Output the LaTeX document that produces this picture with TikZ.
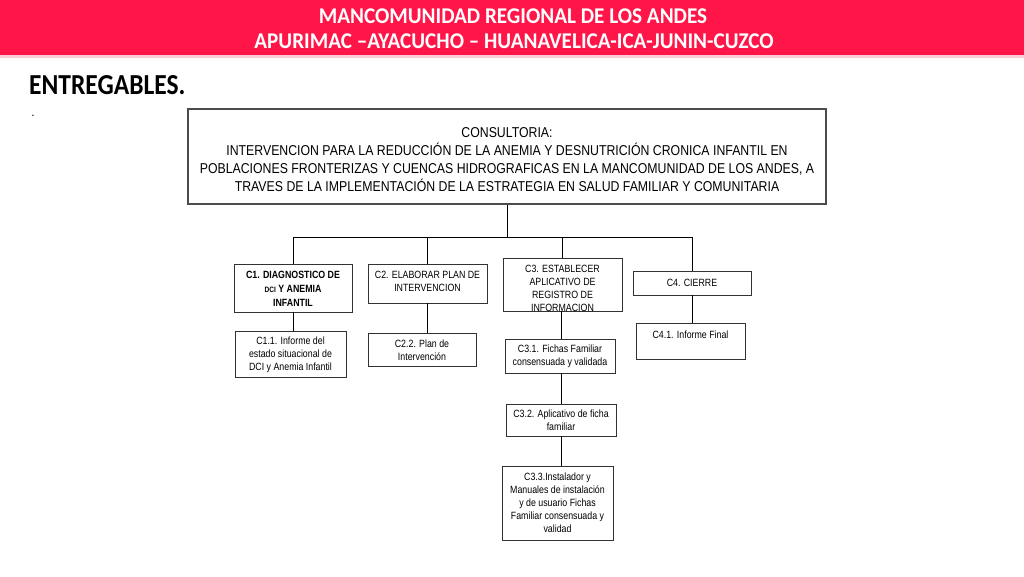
\documentclass[tikz,border=0pt]{standalone}
\usepackage{fontspec}
\newfontfamily\hdrfont[FakeStretch=0.94]{Carlito}
\newfontfamily\entfont[FakeStretch=0.88]{Carlito}
\newfontfamily\narfont[FakeStretch=0.84]{Liberation Sans}
\newfontfamily\bignarfont[FakeStretch=0.86]{Liberation Sans}
\definecolor{banner}{RGB}{255,21,72}
\definecolor{bandpale}{RGB}{250,205,215}
\definecolor{boxline}{RGB}{50,50,50}
\begin{document}
\begin{tikzpicture}[x=1pt,y=-1pt,
  box/.style={draw=boxline, line width=0.9pt, rectangle, inner sep=0pt},
  bigbox/.style={draw=black!70, line width=1.2pt, rectangle, inner sep=0pt},
  txt/.style={align=center, inner sep=0pt, font=\narfont\fontsize{10.5}{13}\selectfont},
  bigtxt/.style={align=center, inner sep=0pt, font=\bignarfont\fontsize{14.3}{18}\selectfont},
  conn/.style={draw=black, line width=0.9pt}]
\useasboundingbox (0,0) rectangle (1024,576);
\fill[white] (0,0) rectangle (1024,576);
% banner
\fill[banner] (0,0) rectangle (1024,55);
\fill[bandpale] (0,55) rectangle (1024,58);
\node[text=white, font=\hdrfont\bfseries\fontsize{22.5}{24}\selectfont, inner sep=0pt] (h1) at (513,16.5) {MANCOMUNIDAD REGIONAL DE LOS ANDES};
\node[text=white, font=\hdrfont\bfseries\fontsize{22.5}{24}\selectfont, inner sep=0pt] (h2) at (514,41.5) {APURIMAC –AYACUCHO – HUANAVELICA-ICA-JUNIN-CUZCO};
\node[anchor=west, font=\entfont\bfseries\fontsize{29}{30}\selectfont, inner sep=0pt] (ent) at (29,85) {ENTREGABLES.};
\node[font=\hdrfont\fontsize{12}{12}\selectfont, inner sep=0pt, anchor=south] (dot) at (33,117) {.};
% main box
\node[bigbox, minimum width=638, minimum height=95] (main) at (507,156.5) {};
\node[bigtxt] (maint) at (507,160) {CONSULTORIA:\\INTERVENCION PARA LA REDUCCIÓN DE LA ANEMIA Y DESNUTRICIÓN CRONICA INFANTIL EN\\POBLACIONES FRONTERIZAS Y CUENCAS HIDROGRAFICAS EN LA MANCOMUNIDAD DE LOS ANDES, A\\TRAVES DE LA IMPLEMENTACIÓN DE LA ESTRATEGIA EN SALUD FAMILIAR Y COMUNITARIA};
% level 1
\node[box, minimum width=118, minimum height=48] (c1) at (293,288) {};
\node[txt, font=\narfont\bfseries\fontsize{10.5}{14}\selectfont] (c1t) at (293,288.5) {C1. DIAGNOSTICO DE\\{\fontsize{7.8}{9}\selectfont DCI} Y ANEMIA\\INFANTIL};
\node[box, minimum width=119, minimum height=39] (c2) at (427.5,283.5) {};
\node[txt] (c2t) at (427.5,281) {C2. ELABORAR PLAN DE\\INTERVENCION};
\node[box, minimum width=119, minimum height=53] (c3) at (562.5,284.5) {};
\node[txt] (c3t) at (562.5,288) {C3. ESTABLECER\\APLICATIVO DE\\REGISTRO DE\\INFORMACION};
\node[box, minimum width=118, minimum height=24] (c4) at (692,283) {};
\node[txt] (c4t) at (692,282.5) {C4. CIERRE};
% level 2
\node[box, minimum width=111, minimum height=46] (c11) at (290.5,354) {};
\node[txt] (c11t) at (290.5,355) {C1.1. Informe del\\estado situacional de\\DCI y Anemia Infantil};
\node[box, minimum width=108, minimum height=33] (c22) at (422,349.5) {};
\node[txt] (c22t) at (422,350.5) {C2.2. Plan de\\Intervención};
\node[box, minimum width=110, minimum height=34] (c31) at (560,356) {};
\node[txt] (c31t) at (560,356.5) {C3.1. Fichas Familiar\\consensuada y validada};
\node[box, minimum width=110, minimum height=32] (c32) at (561,420) {};
\node[txt] (c32t) at (561,420.5) {C3.2. Aplicativo de ficha\\familiar};
\node[box, minimum width=111, minimum height=74] (c33) at (557.5,503) {};
\node[txt] (c33t) at (557.5,503) {C3.3.Instalador y\\Manuales de instalación\\y de usuario Fichas\\Familiar consensuada y\\validad};
\node[box, minimum width=109, minimum height=36] (c41) at (690.5,341) {};
\node[txt] (c41t) at (690.5,335) {C4.1. Informe Final};
% connectors
\draw[conn] (main.south) -- ++(0,33) coordinate (bus);
\draw[conn] (c1.north) -- (c1.north |- bus) -- (c4.north |- bus) -- (c4.north);
\draw[conn] (c2.north) -- (c2.north |- bus);
\draw[conn] (c3.north) -- (c3.north |- bus);
\draw[conn] (c1.south) -- (c1.south |- c11.north);
\draw[conn] (c2.south) -- (c2.south |- c22.north);
\draw[conn] ([xshift=-1.5pt]c3.south) -- ([xshift=-1.5pt]c3.south |- c31.north);
\draw[conn] (c31.south -| c32.north) -- (c32.north);
\draw[conn] (c32.south) -- (c32.south |- c33.north);
\draw[conn] (c4.south) -- (c4.south |- c41.north);
\end{tikzpicture}
\end{document}
